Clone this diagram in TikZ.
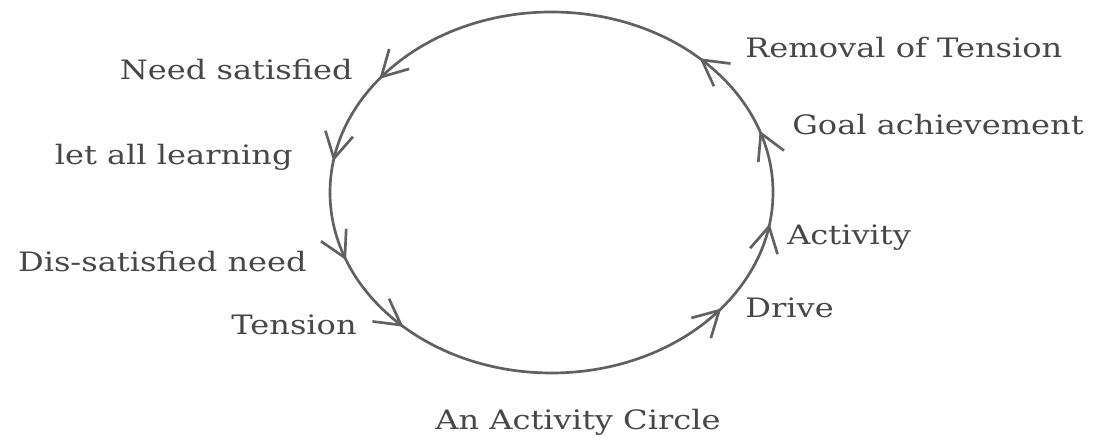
\documentclass[tikz,border=0pt]{standalone}
\usepackage{fontspec}
\setmainfont{DejaVu Serif}
\usetikzlibrary{arrows.meta, decorations.markings}

\begin{document}
\begin{tikzpicture}[x=0.025cm, y=0.025cm,
  >={Straight Barb[length=18pt, width=20pt]},
  lbl/.style={inner sep=0pt, text=black!72, xscale=1.2,
    font=\fontsize{19}{21}\selectfont},
  flow/.style={draw=black!62, line width=1.9pt,
    postaction={decorate, decoration={markings,
      mark=at position 0.0503 with {\arrow{>}},
      mark=at position 0.1254 with {\arrow{>}},
      mark=at position 0.3996 with {\arrow{>}},
      mark=at position 0.4751 with {\arrow{>}},
      mark=at position 0.5554 with {\arrow{>}},
      mark=at position 0.6254 with {\arrow{>}},
      mark=at position 0.8969 with {\arrow{>}},
      mark=at position 0.9751 with {\arrow{>}}}}}]
  \useasboundingbox (0,0) rectangle (1094,438);
  \coordinate (c) at (551.5,245.5);
  % the cycle runs anticlockwise: down the left side, up the right side
  \draw[flow] (c) ellipse [x radius=221.5, y radius=180.5];
  % left side
  \node[lbl, anchor=base east] (needsat) at (353,358) {Need satisfied};
  \node[lbl, anchor=base east] (learning) at (293,273) {let all learning};
  \node[lbl, anchor=base east] (dissat) at (307,166) {Dis-satisfied need};
  \node[lbl, anchor=base east] (tension) at (357,103) {Tension};
  % right side
  \node[lbl, anchor=base west] (removal) at (745,380) {Removal of Tension};
  \node[lbl, anchor=base west] (goal) at (792,303) {Goal achievement};
  \node[lbl, anchor=base west] (activity) at (787,193) {Activity};
  \node[lbl, anchor=base west] (drive) at (745,120) {Drive};
  \node[lbl, anchor=base] (caption) at (578,8) {An Activity Circle};
\end{tikzpicture}
\end{document}
